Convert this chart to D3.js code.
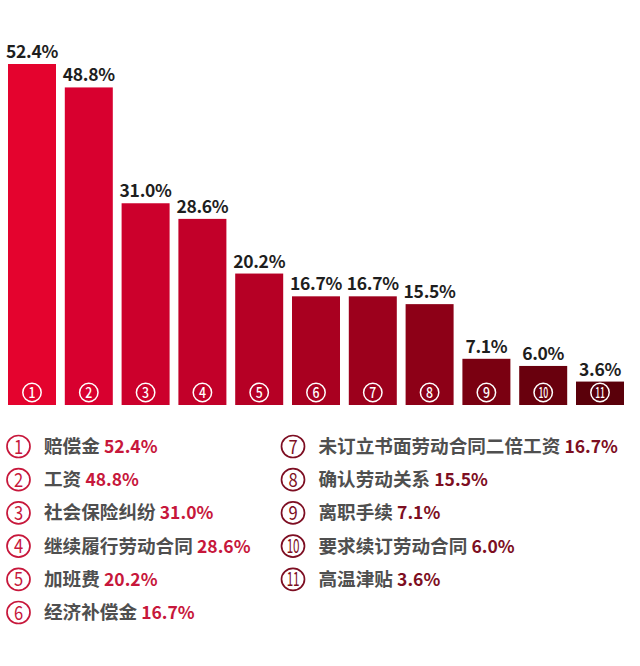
<!DOCTYPE html>
<html>
<head>
<meta charset="utf-8">
<script src="https://cdn.jsdelivr.net/npm/d3@7"></script>
<style>
  html, body { margin: 0; padding: 0; background: #fff; }
  svg { display: block; }
  text { font-family: "Noto Sans CJK SC", "Noto Sans", sans-serif; }
</style>
</head>
<body>
<svg id="chart"></svg>
<script>
/* ------------ DATA --------------------------------------------------- */
const ids    = ['1', '2', '3', '4', '5', '6', '7', '8', '9', '10', '11'];
const names  = ['赔偿金', '工资', '社会保险纠纷', '继续履行劳动合同', '加班费', '经济补偿金',
                '未订立书面劳动合同二倍工资', '确认劳动关系', '离职手续', '要求续订劳动合同', '高温津贴'];
const values = [52.4, 48.8, 31.0, 28.6, 20.2, 16.7, 16.7, 15.5, 7.1, 6.0, 3.6];

/* ------------ STYLE -------------------------------------------------- */
const W = 640, H = 666;
const barColors = ['#e4032e', '#d8002f', '#cc002c', '#c20029', '#b60025', '#a90020',
                   '#9c001c', '#8d0017', '#7a0011', '#69000d', '#5a000a'];
const legendLeft = '#c7173b', legendRight = '#7d0e22';

const svg = d3.select('#chart').attr('width', W).attr('height', H);

/* ------------ SCALES ------------------------------------------------- */
const x = d3.scaleBand().domain(ids).range([8, 624]).paddingInner(0.155).paddingOuter(0);
const y = d3.scaleLinear().domain([0, 52.4]).range([405, 64]);

/* ------------ BARS --------------------------------------------------- */
const bars = svg.append('g').selectAll('g')
  .data(ids.map((id, i) => ({ id, v: values[i], i })))
  .join('g');

bars.append('rect')
  .attr('x', d => x(d.id))
  .attr('y', d => y(d.v))
  .attr('width', x.bandwidth())
  .attr('height', d => y(0) - y(d.v))
  .attr('fill', d => barColors[d.i]);

bars.append('text')
  .attr('x', d => x(d.id) + x.bandwidth() / 2)
  .attr('y', d => y(d.v) - 6)
  .attr('text-anchor', 'middle')
  .attr('font-size', 17.5)
  .attr('font-weight', 'bold')
  .attr('letter-spacing', -0.3)
  .attr('fill', '#1e1e1e')
  .text(d => d.v.toFixed(1) + '%');

// circled numbers inside the bars
bars.append('circle')
  .attr('cx', d => x(d.id) + x.bandwidth() / 2)
  .attr('cy', 392.5)
  .attr('r', 9.2)
  .attr('fill', 'none')
  .attr('stroke', '#fff')
  .attr('stroke-width', 1.5);

bars.append('text')
  .attr('transform', d => `translate(${x(d.id) + x.bandwidth() / 2},397.5) scale(${d.id.length > 1 ? 0.6 : 0.85},1)`)
  .attr('text-anchor', 'middle')
  .attr('font-size', 14.5)
  .attr('font-weight', 500)
  .attr('letter-spacing', d => d.id.length > 1 ? -0.5 : 0)
  .attr('fill', '#fff')
  .text(d => d.id);

/* ------------ LEGEND ------------------------------------------------- */
const rowY = i => 446.5 + (i % 6) * 33.2;
const items = svg.append('g').selectAll('g')
  .data(ids.map((id, i) => ({ id, name: names[i], v: values[i], i })))
  .join('g')
  .attr('transform', d => d.i < 6 ? `translate(18.5,${rowY(d.i)})` : `translate(293,${rowY(d.i - 6)})`);

items.append('ellipse')
  .attr('rx', 11.5).attr('ry', 11)
  .attr('fill', 'none')
  .attr('stroke', d => d.i < 6 ? legendLeft : legendRight)
  .attr('stroke-width', 1.7);

items.append('text')
  .attr('transform', d => `translate(0,7) scale(${d.id.length > 1 ? 0.6 : 0.85},1)`)
  .attr('text-anchor', 'middle')
  .attr('font-size', 19.5)
  .attr('letter-spacing', d => d.id.length > 1 ? -0.5 : 0)
  .attr('fill', d => d.i < 6 ? legendLeft : legendRight)
  .text(d => d.id);

const lbl = items.append('text')
  .attr('x', 25.5)
  .attr('y', 6.5)
  .attr('font-size', 18.6)
  .attr('font-weight', 'bold');

lbl.append('tspan')
  .attr('fill', '#4f4f4f')
  .text(d => d.name + ' ');

lbl.append('tspan')
  .attr('fill', d => d.i < 6 ? legendLeft : legendRight)
  .attr('font-size', 17.5)
  .text(d => d.v.toFixed(1) + '%');
</script>
</body>
</html>
